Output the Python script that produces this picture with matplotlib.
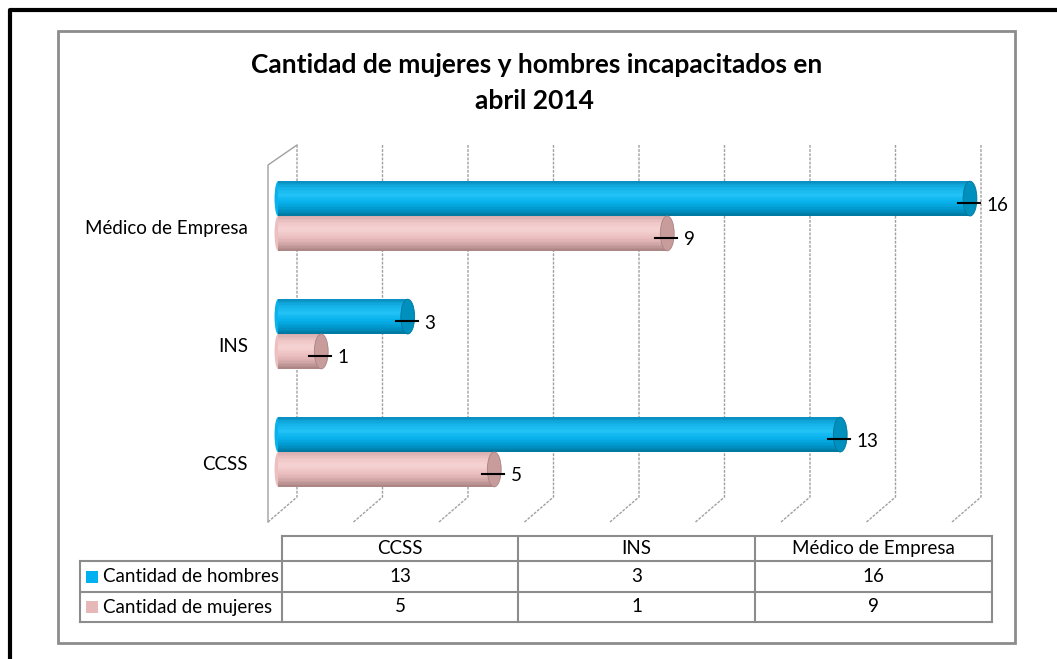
import numpy as np
import matplotlib.pyplot as plt
from matplotlib.patches import Ellipse, Rectangle

plt.rcParams['font.family'] = ['Lato', 'DejaVu Sans']

# datos del grafico
categorias = ['CCSS', 'INS', 'Médico de Empresa']
hombres = [13, 3, 16]
mujeres = [5, 1, 9]
series = ['Cantidad de hombres', 'Cantidad de mujeres']
ticks_x = np.arange(0, 17, 2)
titulo = ['Cantidad de mujeres y hombres incapacitados en', 'abril 2014']

# colores (perfil del cilindro de arriba hacia abajo)
perfil_azul = ['#0A8CBE', '#14B2E8', '#22C2F6', '#08B2EC', '#0098CC', '#00769E']
perfil_rosa = ['#D4AAAA', '#F0C8C8', '#F6D2D2', '#ECC0C0', '#D4A8A8', '#A88282']
tapa_azul = '#0090BE'
tapa_rosa = '#C99C9C'
color_leyenda = ['#00B0F0', '#E6B9B8']

W, H = 1057, 659
fig = plt.figure(figsize=(W / 100, H / 100), dpi=100)

# capa de fondo en pixeles
bg = fig.add_axes([0, 0, 1, 1])
bg.set_xlim(0, W)
bg.set_ylim(H, 0)
bg.axis('off')

# marco negro y borde del area del grafico
bg.plot([10, 10, W], [H, 10, 10], color='black', lw=3, solid_capstyle='butt')
bg.add_patch(Rectangle((58, 31), 957, 612, fill=False, ec='#8C8C8C', lw=2))

# titulo
bg.text(537, 65, titulo[0], ha='center', va='center', fontsize=19, fontweight='bold')
bg.text(534, 101, titulo[1], ha='center', va='center', fontsize=19, fontweight='bold')

# paredes y lineas de division (3D)
gris = '#A0A0A0'
bg.plot([268, 268, 297], [522, 165, 145], color=gris, lw=1.0)
for g in ticks_x:
    xb = 297 + 42.75 * g
    bg.plot([xb, xb, xb - 29], [145, 497, 522], color=gris, lw=1.0, ls=(0, (2, 1)))

# ejes de las barras
ax = fig.add_axes([240 / W, 1 - 530 / H, 760 / W, 400 / H])
ax.patch.set_alpha(0)
ax.axis('off')
x0px, escala = 278, 43.25
ax.set_xlim((240 - x0px) / escala, (1000 - x0px) / escala)
yc, paso = 452, 118
ax.set_ylim((yc - 530) / paso, (yc - 130) / paso)

alto = 0.295
N = 24


def hex2rgb(c):
    return np.array([int(c[i:i + 2], 16) / 255 for i in (1, 3, 5)])


def cilindro(v, yb, perfil, tapa):
    cols = np.array([hex2rgb(c) for c in perfil])
    pos = np.linspace(0, 1, len(perfil))
    # extremo izquierdo redondeado
    ax.add_patch(Ellipse((0, yb), 0.16, alto, fc=perfil[3], ec='none', zorder=2))
    for k in range(N):
        f = (k + 0.5) / N
        c = [np.interp(f, pos, cols[:, j]) for j in range(3)]
        ax.barh(yb + alto / 2 - f * alto, v, height=alto / N + 0.002, left=0,
                color=c, lw=0, zorder=3)
    ax.add_patch(Ellipse((v, yb), 0.32, alto, fc=tapa, ec=perfil[-1], lw=0.6, zorder=4))
    # etiqueta de datos con linea guia
    ax.plot([v - 0.28, v + 0.23], [yb - 0.035, yb - 0.035], color='black', lw=1.5, zorder=5)
    ax.text(v + 0.38, yb - 0.055, str(v), ha='left', va='center', fontsize=13.5, zorder=5)


for i, cat in enumerate(categorias):
    cilindro(hombres[i], i + alto / 2, perfil_azul, tapa_azul)
    cilindro(mujeres[i], i - alto / 2, perfil_rosa, tapa_rosa)
    ax.text((248 - x0px) / escala, i - 0.105, cat, ha='right', va='center', fontsize=13.5)

# tabla de datos
xs = [282, 518, 755, 992]
ys = [536, 561, 592, 622]
xl = 80
lc = '#8C8C8C'
bg.plot([xs[0], xs[-1]], [ys[0], ys[0]], color=lc, lw=1.5)
for yy in ys[1:]:
    bg.plot([xl, xs[-1]], [yy, yy], color=lc, lw=1.5)
for xx in xs:
    bg.plot([xx, xx], [ys[0], ys[-1]], color=lc, lw=1.5)
bg.plot([xl, xl], [ys[1], ys[-1]], color=lc, lw=1.5)

for j, cat in enumerate(categorias):
    xm = (xs[j] + xs[j + 1]) / 2
    bg.text(xm, (ys[0] + ys[1]) / 2, cat, ha='center', va='center', fontsize=13.5)
    bg.text(xm, (ys[1] + ys[2]) / 2, str(hombres[j]), ha='center', va='center', fontsize=13.5)
    bg.text(xm, (ys[2] + ys[3]) / 2, str(mujeres[j]), ha='center', va='center', fontsize=13.5)

for r, nombre in enumerate(series):
    ym = (ys[r + 1] + ys[r + 2]) / 2
    bg.add_patch(Rectangle((86, ym - 6), 12, 12, fc=color_leyenda[r], ec='none'))
    bg.text(103, ym, nombre, ha='left', va='center', fontsize=13.5)

fig.savefig('out.png', dpi=100)
